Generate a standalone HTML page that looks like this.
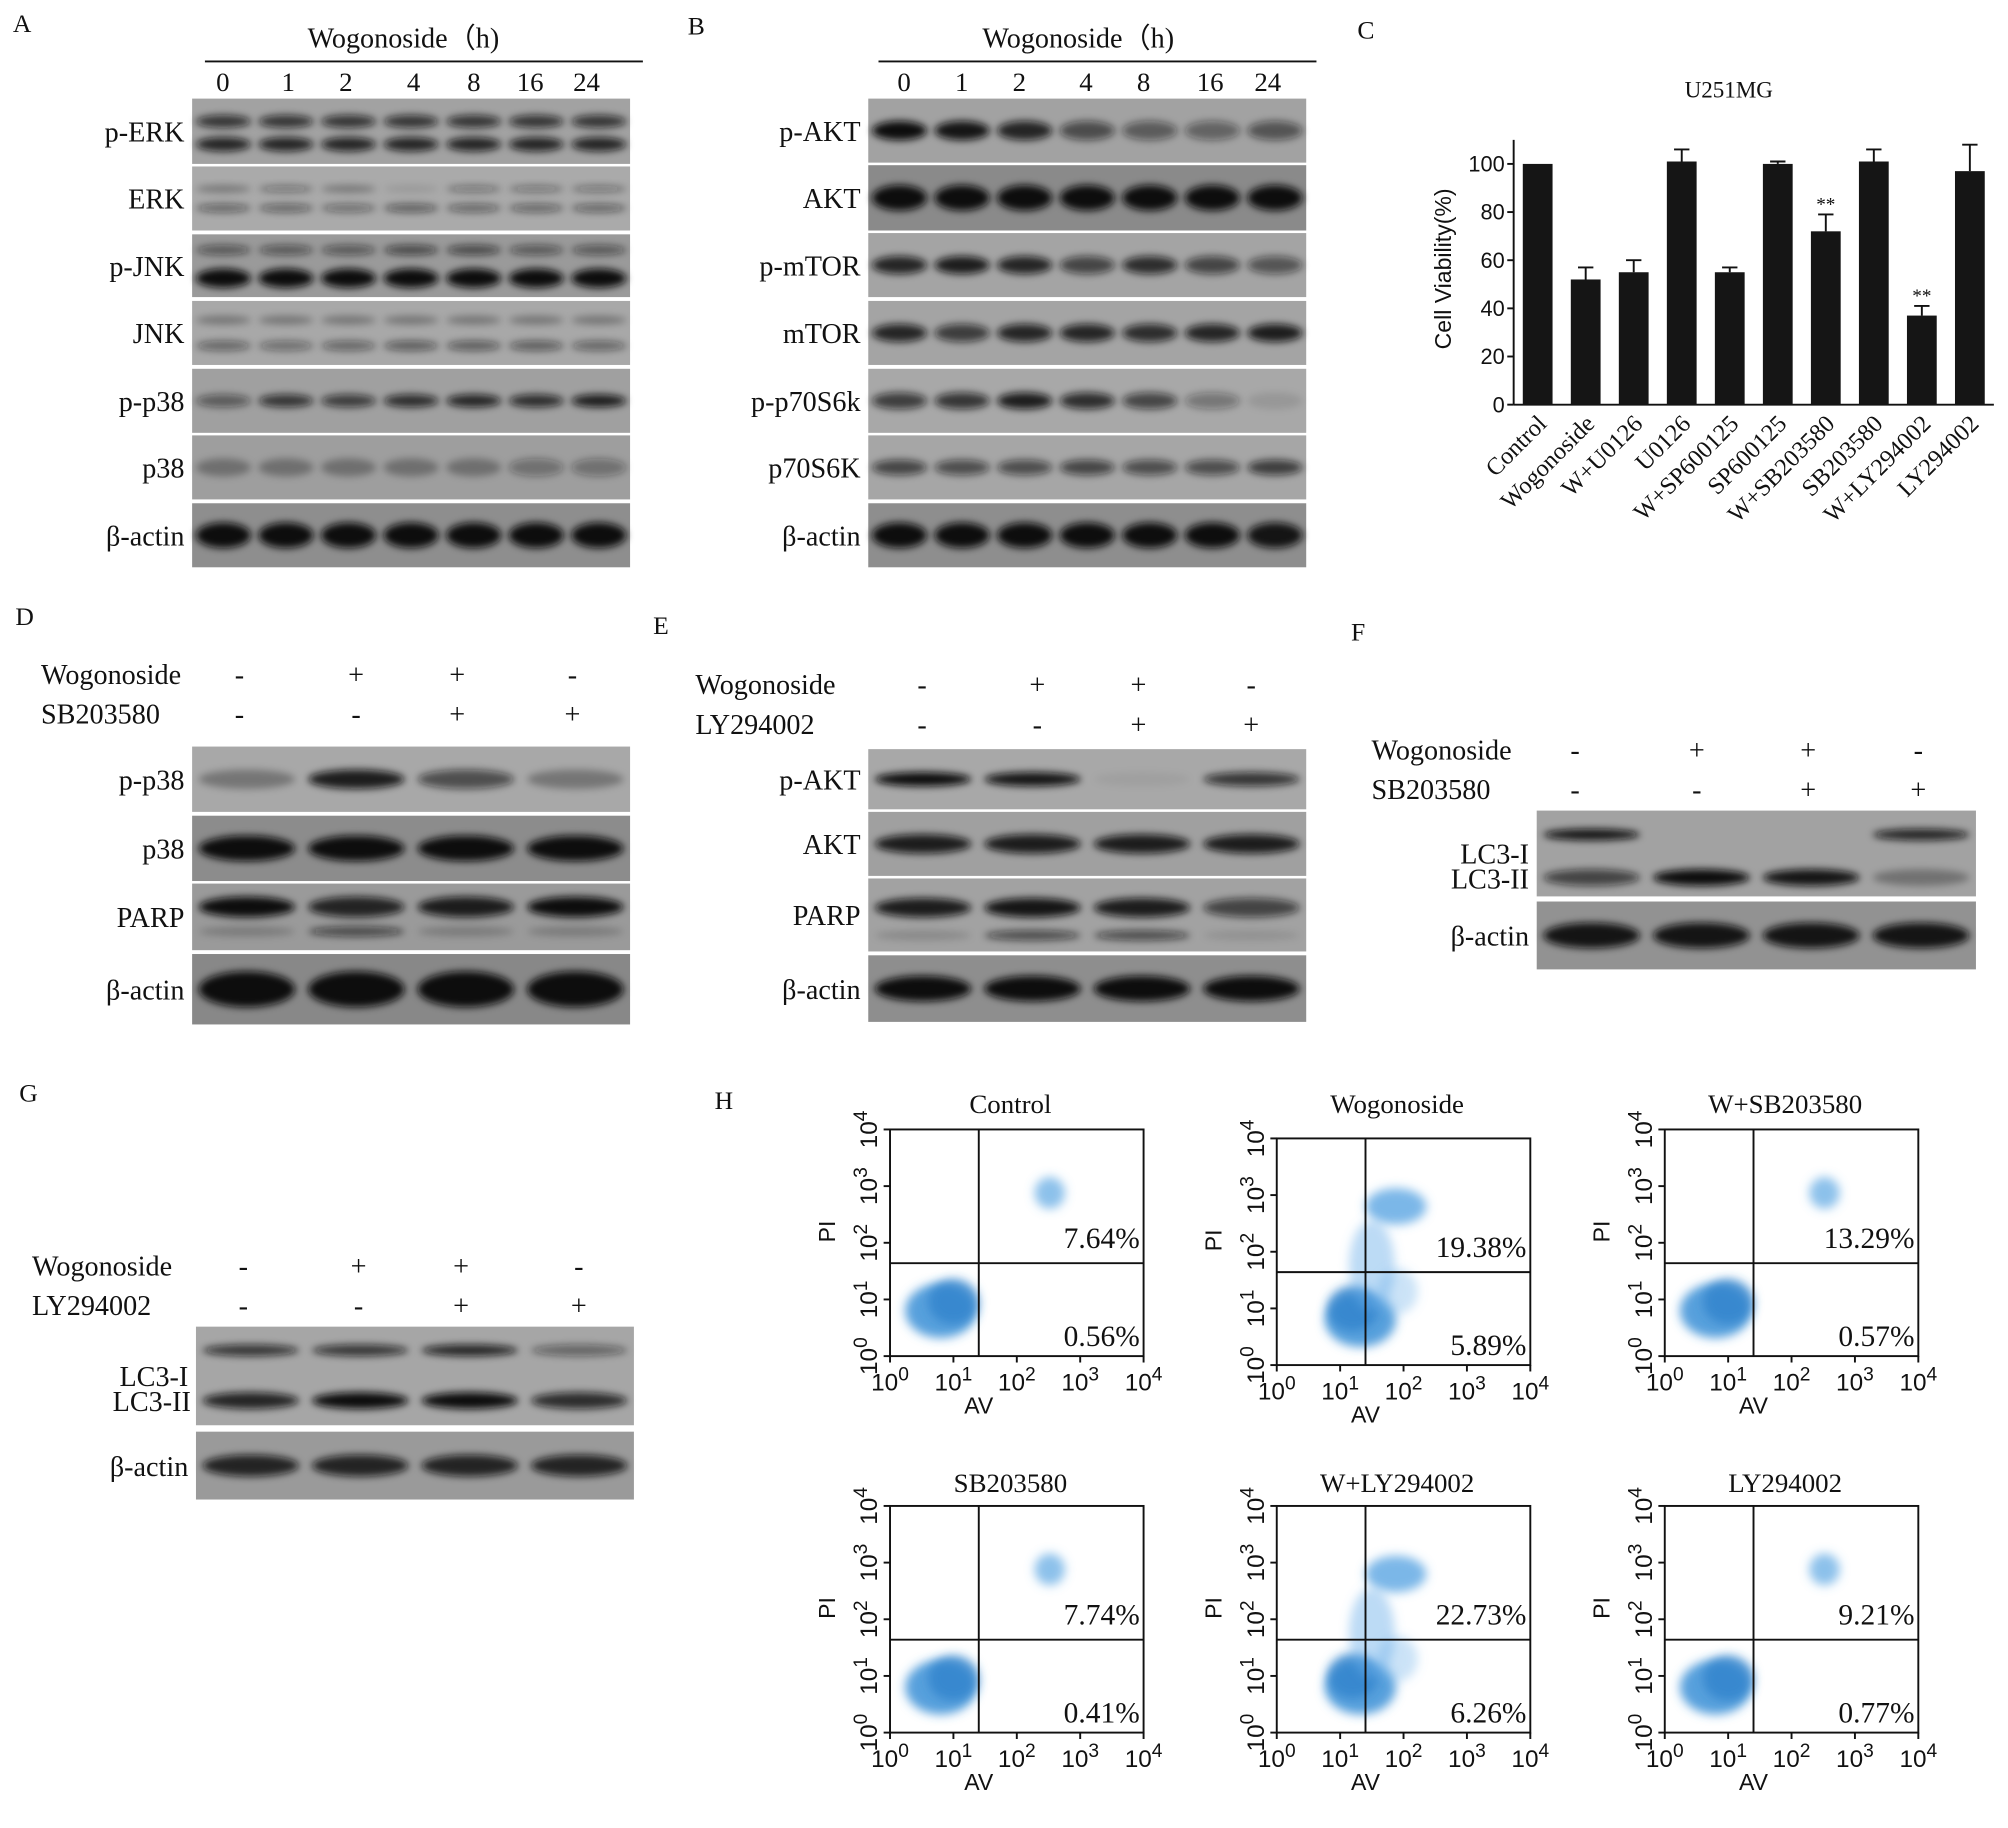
<!DOCTYPE html>
<html><head><meta charset="utf-8"><style>
html,body{margin:0;padding:0;background:#fff}
svg{display:block}
text{font-family:"Liberation Serif",serif;fill:#111}
.sans{font-family:"Liberation Sans",sans-serif}
</style></head><body>
<svg id="fig" width="2008" height="1828" viewBox="0 0 1568 1427.5" xmlns="http://www.w3.org/2000/svg">
<defs>
<filter id="blur" x="-30%" y="-80%" width="160%" height="260%"><feGaussianBlur stdDeviation="3"/></filter>
<filter id="blur2" x="-50%" y="-50%" width="200%" height="200%"><feGaussianBlur stdDeviation="4"/></filter>
</defs>
<g id="root"></g>
</svg>
<script>
const NS="http://www.w3.org/2000/svg";
const root=document.getElementById('root');
function el(tag,attrs,parent,txt){const e=document.createElementNS(NS,tag);for(const k in attrs)e.setAttribute(k,attrs[k]);if(txt!==undefined)e.textContent=txt;(parent||root).appendChild(e);return e;}
function txt(x,y,s,size,anchor,parent,name){const t=el('text',{x:x,y:y,'font-size':size,'text-anchor':anchor||'start'},parent,s);

return t;}

function blot(name,x0,x1,rows,nLanes){
  const g=el('g',{});
  
  
  const lw=(x1-x0)/nLanes;
  rows.forEach(r=>{
    const [lab,y0,y1,bands,bg]=r;
    const rg=el('g',{},g);
    
    
    el('rect',{x:x0,y:y0,width:x1-x0,height:y1-y0,fill:bg||'#a2a2a2'},rg);
    bands.forEach(b=>{
      const [ry,vals,h]=b;
      vals.forEach((v,i)=>{
        if(v<=0)return;
        const cx=x0+lw*(i+0.5);
        el('ellipse',{cx:cx,cy:y0+(y1-y0)*ry,rx:lw*0.44,ry:h/2,fill:'#111','fill-opacity':v,filter:'url(#blur)'},rg);
      });
    });
    txt(x0-6,(y0+y1)/2+8,lab,22,'end',rg,'row-label');
  });
  return g;
}

[['A',10,25],['B',537,27],['C',1060,30],['D',12,488],['E',510,495],['F',1055,500],['G',15,860],['H',558,866]].forEach(p=>txt(p[1],p[2],p[0],20,'start',null,'panel-letter-'+p[0].toLowerCase()));

function header(cx,x0,x1,nums,pos){
  txt(cx,37,'Wogonoside（h)',22,'middle',null,'treatment-header');
  const l=el('line',{x1:x0,y1:48,x2:x1,y2:48,stroke:'#111','stroke-width':1.5});
  
  nums.forEach((n,i)=>txt(pos[i],71,n,21,'middle',null,'time-label'));
}
const hours=['0','1','2','4','8','16','24'];
header(315,160,502,hours,[174,225,270,323,370,414,458]);
blot('blot-panel-a',150,492,[
 ['p-ERK',77,128,[[0.35,[.75,.75,.75,.75,.75,.75,.75],10],[0.7,[.85,.85,.85,.85,.85,.85,.85],11]]],
 ['ERK',130,180,[[0.35,[.3,.35,.3,.1,.35,.35,.35],6],[0.65,[.45,.45,.4,.5,.45,.45,.45],7]],'#aaa'],
 ['p-JNK',183,232,[[0.25,[.5,.5,.5,.6,.6,.5,.5],8],[0.7,[1,1,1,1,1,1,1],15]],'#9a9a9a'],
 ['JNK',235,285,[[0.3,[.3,.3,.3,.3,.3,.3,.3],7],[0.7,[.45,.4,.45,.5,.5,.5,.45],8]],'#a8a8a8'],
 ['p-p38',288,338,[[0.5,[.5,.75,.7,.8,.85,.8,.9],10]],'#a0a0a0'],
 ['p38',340,390,[[0.5,[.3,.3,.3,.3,.3,.35,.35],14]],'#9e9e9e'],
 ['β-actin',393,443,[[0.5,[1,1,1,1,1,1,1],20]],'#8e8e8e']
],7);

header(842,686,1028,hours,[706,751,796,848,893,945,990]);
blot('blot-panel-b',678,1020,[
 ['p-AKT',77,127,[[0.5,[1,.95,.85,.6,.5,.45,.55],15]],'#a2a2a2'],
 ['AKT',129,180,[[0.5,[1,1,1,1,1,1,1],20]],'#8a8a8a'],
 ['p-mTOR',182,232,[[0.5,[.85,.9,.85,.65,.8,.65,.55],14]],'#a4a4a4'],
 ['mTOR',235,285,[[0.5,[.85,.7,.85,.85,.8,.85,.9],14]],'#a4a4a4'],
 ['p-p70S6k',288,338,[[0.5,[.7,.75,.9,.8,.65,.35,.1],13]],'#a8a8a8'],
 ['p70S6K',340,390,[[0.5,[.65,.6,.6,.65,.6,.6,.7],12]],'#a6a6a6'],
 ['β-actin',393,443,[[0.5,[1,1,1,1,1,1,.95],20]],'#8e8e8e']
],7);

const cCategories=['Control','Wogonoside','W+U0126','U0126','W+SP600125','SP600125','W+SB203580','SB203580','W+LY294002','LY294002'];
const cValues=[100,52,55,101,55,100,72,101,37,97];
const cErrors=[0,5,5,5,2,1,7,5,4,11];
const cSignif=['','','','','','','**','','**',''];
const cTicks=[0,20,40,60,80,100];
(function(){
  const g=el('g',{});
  
  
  const X0=1182,X1=1557,Y0=316,Y100=128;
  const yS=v=>Y0-(v/100)*(Y0-Y100);
  const step=(X1-X0)/cCategories.length;
  const xS=i=>X0+step*(i+0.5);
  txt(1350,76,'U251MG',18,'middle',g,'chart-title');
  const ya=el('line',{x1:X0,y1:yS(0),x2:X0,y2:yS(110),stroke:'#111','stroke-width':1.5},g);
  
  const xa=el('line',{x1:X0,y1:Y0,x2:X1,y2:Y0,stroke:'#111','stroke-width':1.5},g);
  
  cTicks.forEach(t=>{
    const tk=el('line',{x1:X0-5,y1:yS(t),x2:X0,y2:yS(t),stroke:'#111','stroke-width':1.5},g);
    
    const l=txt(X0-7,yS(t)+6,String(t),17,'end',g,'y-tick-label');l.setAttribute('class','sans');
  });
  const yl=txt(0,0,'Cell Viability(%)',18,'middle',g,'y-axis-title');
  yl.setAttribute('class','sans');
  yl.setAttribute('transform','translate(1133,210) rotate(-90)');
  cValues.forEach((v,i)=>{
    const bw=step*0.62,cx=xS(i);
    const b=el('rect',{x:cx-bw/2,y:yS(v),width:bw,height:Y0-yS(v),fill:'#151515'},g);
    
    
    if(cErrors[i]>0){
      const e=el('path',{d:`M${cx} ${yS(v)} V${yS(v+cErrors[i])} M${cx-6} ${yS(v+cErrors[i])} H${cx+6}`,stroke:'#111','stroke-width':1.5,fill:'none'},g);
      
    }
    if(cSignif[i]){txt(cx,yS(v+cErrors[i])-3,cSignif[i],15,'middle',g,'significance-marker');}
    const xl=txt(0,0,cCategories[i],19,'end',g,'x-tick-label');
    xl.setAttribute('transform',`translate(${cx+8},${Y0+16}) rotate(-45)`);
  });
})();

function signs(lbl1,lbl2,lx,y1,y2,xs,s1,s2){
  const g=el('g',{});
  
  
  txt(lx,y1+7,lbl1,22,'start',g,'treatment-label');
  txt(lx,y2+7,lbl2,22,'start',g,'treatment-label');
  xs.forEach((x,i)=>{txt(x,y1+7,s1[i],22,'middle',g,'sign');txt(x,y2+7,s2[i],22,'middle',g,'sign');});
}
const sA=['-','+','+','-'],sB=['-','-','+','+'];
signs('Wogonoside','SB203580',32,527,558,[187,278,357,447],sA,sB);
blot('blot-panel-d',150,492,[
 ['p-p38',583,634,[[0.5,[.3,.9,.6,.3],15]],'#a8a8a8'],
 ['p38',637,688,[[0.5,[1,1,1,1],20]],'#8c8c8c'],
 ['PARP',690,742,[[0.35,[1,.85,.9,1],16],[0.72,[.2,.6,.2,.2],8]],'#9a9a9a'],
 ['β-actin',745,800,[[0.5,[1,1,1,1],28]],'#888']
],4);

signs('Wogonoside','LY294002',543,535,566,[720,810,889,977],sA,sB);
blot('blot-panel-e',678,1020,[
 ['p-AKT',585,632,[[0.5,[1,.95,.05,.75],11]],'#a8a8a8'],
 ['AKT',634,684,[[0.5,[.9,.9,.9,.9],15]],'#a0a0a0'],
 ['PARP',686,743,[[0.4,[.9,.95,.9,.65],15],[0.78,[.15,.6,.6,.1],8]],'#a2a2a2'],
 ['β-actin',746,798,[[0.5,[1,1,1,1],20]],'#8e8e8e']
],4);

signs('Wogonoside','SB203580',1071,586,617,[1230,1325,1412,1498],sA,sB);
blot('blot-panel-f',1200,1543,[
 ['LC3-I',633,700,[[0.28,[.95,0,0,.85],9],[0.78,[.65,1,.95,.3],13]],'#a2a2a2'],
 ['β-actin',704,757,[[0.5,[.95,.95,.95,.95],20]],'#929292']
],4);
txt(1194,694,'LC3-II',22,'end',null,'row-label');

signs('Wogonoside','LY294002',25,989,1020,[190,280,360,452],sA,sB);
blot('blot-panel-g',153,495,[
 ['LC3-I',1036,1113,[[0.24,[.75,.75,.85,.45],9],[0.75,[.85,1,1,.8],13]],'#a6a6a6'],
 ['β-actin',1118,1171,[[0.5,[.85,.85,.85,.85],17]],'#9a9a9a']
],4);
txt(149,1102,'LC3-II',22,'end',null,'row-label');

const flowTitles=['Control','Wogonoside','W+SB203580','SB203580','W+LY294002','LY294002'];
const flowUR=['7.64%','19.38%','13.29%','7.74%','22.73%','9.21%'];
const flowLR=['0.56%','5.89%','0.57%','0.41%','6.26%','0.77%'];
const flowPos=[[695,882],[997,889],[1300,882],[695,1176],[997,1176],[1300,1176]];
const titleY=[862,862,862,1158,1158,1158];
flowPos.forEach((p,k)=>{
  const [x,y]=p,w=198,h=177;
  const g=el('g',{});
  
  
  txt(x+w/2-5,titleY[k]+7,flowTitles[k],21,'middle',g,'flow-title');
  const qx=x+w*0.35,qy=y+h*0.59;
  const live=k===1||k===4;
  el('ellipse',{cx:x+w*(live?0.33:0.2),cy:y+h*0.8,rx:w*0.14,ry:h*0.12,fill:'#3a8fd6','fill-opacity':.85,filter:'url(#blur2)'},g);
  el('ellipse',{cx:x+w*(live?0.3:0.25),cy:y+h*(live?0.75:0.76),rx:w*0.1,ry:h*0.1,fill:'#2f82cc','fill-opacity':.8,filter:'url(#blur2)'},g);
  el('ellipse',{cx:x+w*(live?0.47:0.63),cy:y+h*(live?0.3:0.28),rx:w*(live?0.12:0.06),ry:h*(live?0.08:0.07),fill:'#4f9fe0','fill-opacity':live?.75:.65,filter:'url(#blur2)'},g);
  if(live)el('ellipse',{cx:qx+5,cy:qy-5,rx:w*0.09,ry:h*0.2,fill:'#6ab0e8','fill-opacity':.45,filter:'url(#blur2)'},g);
  if(live)el('ellipse',{cx:qx+25,cy:qy+15,rx:w*0.08,ry:h*0.1,fill:'#6ab0e8','fill-opacity':.35,filter:'url(#blur2)'},g);
  const fr=el('rect',{x:x,y:y,width:w,height:h,fill:'none',stroke:'#111','stroke-width':1.5},g);
  
  const q=el('path',{d:`M${qx} ${y} V${y+h} M${x} ${qy} H${x+w}`,stroke:'#111','stroke-width':1.5},g);
  
  txt(x+w-3,qy-12,flowUR[k],23,'end',g,'upper-right-percent');
  txt(x+w-3,y+h-8,flowLR[k],23,'end',g,'lower-right-percent');
  for(let i=0;i<=4;i++){
    const tx=x+w*i/4, ty=y+h-h*i/4;
    el('line',{x1:tx,y1:y+h,x2:tx,y2:y+h+5,stroke:'#111','stroke-width':1.5},g);
    el('line',{x1:x-5,y1:ty,x2:x,y2:ty,stroke:'#111','stroke-width':1.5},g);
    const xl=el('text',{x:tx,y:y+h+27,'font-size':19,'text-anchor':'middle',class:'sans'},g);
    
    xl.innerHTML='10<tspan dy="-8" font-size="15">'+i+'</tspan>';
    const yl=el('text',{x:0,y:0,'font-size':19,'text-anchor':'middle',class:'sans',transform:`translate(${x-10},${ty}) rotate(-90)`},g);
    
    yl.innerHTML='10<tspan dy="-8" font-size="15">'+i+'</tspan>';
  }
  const ax=txt(qx,y+h+45,'AV',18,'middle',g,'x-axis-title');ax.setAttribute('class','sans');
  const ay=txt(0,0,'PI',18,'middle',g,'y-axis-title');ay.setAttribute('class','sans');
  ay.setAttribute('transform',`translate(${x-43},${y+h*0.45}) rotate(-90)`);
});
</script>
</body></html>
